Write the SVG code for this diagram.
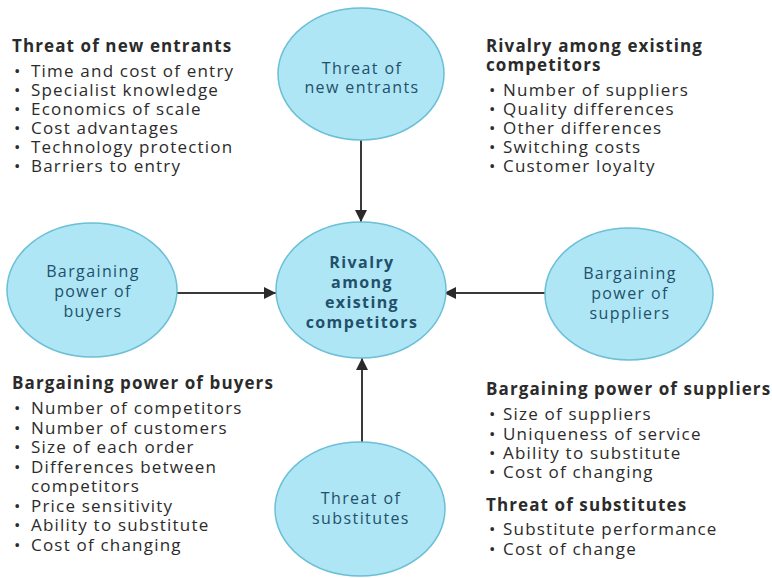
<svg xmlns="http://www.w3.org/2000/svg" width="772" height="578" viewBox="0 0 772 578">
<defs>
<marker id="ah" viewBox="0 0 10 10" refX="10" refY="5" markerWidth="22" markerHeight="12" markerUnits="userSpaceOnUse" orient="auto">
<path d="M0,0 L10,5 L0,10 Z" fill="#2a2a2a"/>
</marker>
<style>
.node ellipse{fill:#aee6f6;stroke:#6bbfd6;stroke-width:1.5}
.nt{font-family:"Open Sans","DejaVu Sans",sans-serif;font-size:16px;letter-spacing:1.4px;fill:#22506a;text-anchor:middle}
.nb{font-weight:bold}
.h{font-family:"Open Sans","DejaVu Sans",sans-serif;font-size:17px;letter-spacing:1.1px;font-weight:bold;fill:#2b2b2b}
.b{font-family:"Open Sans","DejaVu Sans",sans-serif;font-size:17px;letter-spacing:1.2px;fill:#2b2b2b}
.conn line{stroke:#3a3a3a;stroke-width:2;marker-end:url(#ah)}
</style>
</defs>
<rect width="772" height="578" fill="#ffffff"/>
<g class="conn" id="connectors">
<line x1="361" y1="140" x2="361" y2="222"/>
<line x1="177" y1="293" x2="276" y2="293"/>
<line x1="545" y1="293" x2="444" y2="293"/>
<line x1="362" y1="442" x2="362" y2="358"/>
</g>
<g class="node" id="n-new">
<ellipse cx="361" cy="74" rx="83" ry="66"/>
<text class="nt" x="362" y="74">Threat of</text>
<text class="nt" x="362" y="93">new entrants</text>
</g>
<g class="node" id="n-center">
<ellipse cx="361" cy="290" rx="85" ry="68"/>
<text class="nt nb" x="362" y="268">Rivalry</text>
<text class="nt nb" x="362" y="288">among</text>
<text class="nt nb" x="362" y="308">existing</text>
<text class="nt nb" x="362" y="328">competitors</text>
</g>
<g class="node" id="n-buyers">
<ellipse cx="92" cy="290" rx="85" ry="67"/>
<text class="nt" x="93" y="277">Bargaining</text>
<text class="nt" x="93" y="297">power of</text>
<text class="nt" x="93" y="317">buyers</text>
</g>
<g class="node" id="n-suppliers">
<ellipse cx="629" cy="294" rx="84" ry="66"/>
<text class="nt" x="630" y="279">Bargaining</text>
<text class="nt" x="630" y="299">power of</text>
<text class="nt" x="630" y="319">suppliers</text>
</g>
<g class="node" id="n-subs">
<ellipse cx="360" cy="509" rx="85" ry="67"/>
<text class="nt" x="361" y="504">Threat of</text>
<text class="nt" x="361" y="524">substitutes</text>
</g>
<g id="t-new">
<text class="h" x="12" y="52">Threat of new entrants</text>
<text class="b" y="77"><tspan x="14">•</tspan><tspan x="31">Time and cost of entry</tspan></text>
<text class="b" y="96"><tspan x="14">•</tspan><tspan x="31">Specialist knowledge</tspan></text>
<text class="b" y="115"><tspan x="14">•</tspan><tspan x="31">Economics of scale</tspan></text>
<text class="b" y="134"><tspan x="14">•</tspan><tspan x="31">Cost advantages</tspan></text>
<text class="b" y="153"><tspan x="14">•</tspan><tspan x="31">Technology protection</tspan></text>
<text class="b" y="172"><tspan x="14">•</tspan><tspan x="31">Barriers to entry</tspan></text>
</g>
<g id="t-rivalry">
<text class="h" x="486" y="52">Rivalry among existing</text>
<text class="h" x="486" y="71">competitors</text>
<text class="b" y="96"><tspan x="489">•</tspan><tspan x="503">Number of suppliers</tspan></text>
<text class="b" y="115"><tspan x="489">•</tspan><tspan x="503">Quality differences</tspan></text>
<text class="b" y="134"><tspan x="489">•</tspan><tspan x="503">Other differences</tspan></text>
<text class="b" y="153"><tspan x="489">•</tspan><tspan x="503">Switching costs</tspan></text>
<text class="b" y="172"><tspan x="489">•</tspan><tspan x="503">Customer loyalty</tspan></text>
</g>
<g id="t-buyers">
<text class="h" x="12" y="389">Bargaining power of buyers</text>
<text class="b" y="414"><tspan x="14">•</tspan><tspan x="31">Number of competitors</tspan></text>
<text class="b" y="433.5"><tspan x="14">•</tspan><tspan x="31">Number of customers</tspan></text>
<text class="b" y="453"><tspan x="14">•</tspan><tspan x="31">Size of each order</tspan></text>
<text class="b" y="472.5"><tspan x="14">•</tspan><tspan x="31">Differences between</tspan></text>
<text class="b" x="31" y="492">competitors</text>
<text class="b" y="511.5"><tspan x="14">•</tspan><tspan x="31">Price sensitivity</tspan></text>
<text class="b" y="531"><tspan x="14">•</tspan><tspan x="31">Ability to substitute</tspan></text>
<text class="b" y="550.5"><tspan x="14">•</tspan><tspan x="31">Cost of changing</tspan></text>
</g>
<g id="t-suppliers">
<text class="h" x="486" y="395">Bargaining power of suppliers</text>
<text class="b" y="420"><tspan x="489">•</tspan><tspan x="503">Size of suppliers</tspan></text>
<text class="b" y="440"><tspan x="489">•</tspan><tspan x="503">Uniqueness of service</tspan></text>
<text class="b" y="459"><tspan x="489">•</tspan><tspan x="503">Ability to substitute</tspan></text>
<text class="b" y="478"><tspan x="489">•</tspan><tspan x="503">Cost of changing</tspan></text>
<text class="h" x="486" y="511">Threat of substitutes</text>
<text class="b" y="535"><tspan x="489">•</tspan><tspan x="503">Substitute performance</tspan></text>
<text class="b" y="555"><tspan x="489">•</tspan><tspan x="503">Cost of change</tspan></text>
</g>
</svg>
